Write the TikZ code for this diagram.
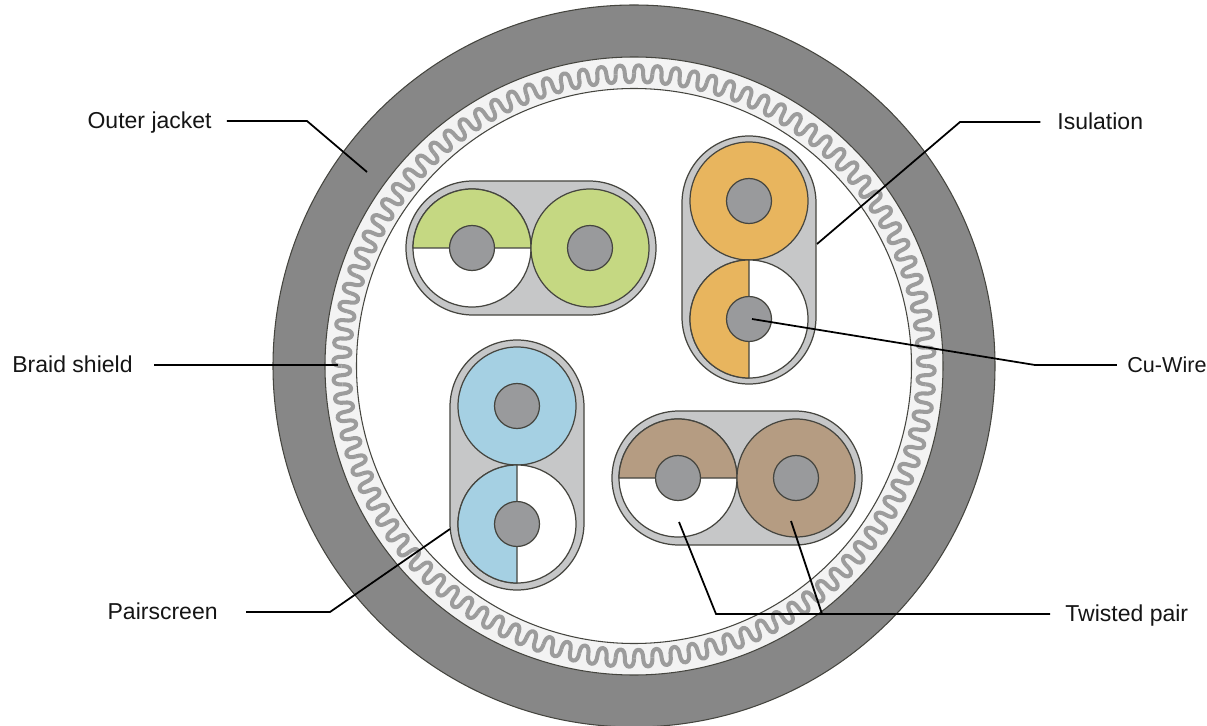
\documentclass[tikz,border=0pt]{standalone}
\usepackage{fontspec}
\setmainfont{Liberation Sans}
\usepackage{tikz}
\usetikzlibrary{arrows.meta,positioning,calc}
\definecolor{Jacket}{HTML}{878787}
\definecolor{Braid}{HTML}{F3F3F3}
\definecolor{BraidWire}{HTML}{9C9C9C}
\definecolor{Screen}{HTML}{C6C7C8}
\definecolor{Copper}{HTML}{999A9C}
\definecolor{Edge}{HTML}{45453F}
\definecolor{WireGreen}{HTML}{C5D882}
\definecolor{WireOrange}{HTML}{E8B55E}
\definecolor{WireBlue}{HTML}{A5D0E3}
\definecolor{WireBrown}{HTML}{B59C82}
\definecolor{Ink}{HTML}{151515}

\begin{document}
\begin{tikzpicture}[x=0.02cm, y=-0.02cm,
    ring/.style={draw=Edge, line width=0.6pt},
    braidwire/.style={draw=BraidWire, line width=2.3pt, line join=round},
    screen/.style={draw=Edge, fill=Screen, line width=0.7pt, rounded corners=1.34cm},
    wire/.style={draw=Edge, line width=0.7pt},
    core/.style={draw=Edge, fill=Copper, line width=0.7pt},
    leader/.style={draw=black, line width=1pt},
    tag/.style={font=\fontsize{13.1}{15}\selectfont, text=Ink, inner sep=0pt, text height=2.1ex, text depth=0.5ex}]
  \useasboundingbox (0,0) rectangle (1207,726);
  \fill[Jacket] (634,366) circle [radius=361];
  \draw[ring] (634,366) circle [radius=361];
  \draw[ring, fill=Braid] (634,366) circle [radius=309];
  \foreach \i in {0,...,99}
    \draw[braidwire, shift={(634,366)}, rotate=3.6*\i]
      plot[domain=0:360, samples=17, smooth] ({0.01*\x-0.25*sin(2*\x)}:{292.3+8.5*sin(\x)});
  \draw[ring, fill=white] (634,366) circle [radius=277.5];

  \draw[screen] (406,181) rectangle (656,315);
  \draw[wire, fill=white] (472,248) circle [radius=59];
  \draw[wire, fill=WireGreen] (413,248) arc [start angle=180, end angle=360, radius=59] -- cycle;
  \draw[core] (472,248) circle [radius=22.5];
  \draw[wire, fill=WireGreen] (590,248) circle [radius=59];
  \draw[core] (590,248) circle [radius=22.5];

  \draw[screen] (682,136) rectangle (816,384);
  \draw[wire, fill=WireOrange] (749,201) circle [radius=59];
  \draw[core] (749,201) circle [radius=22.5];
  \draw[wire, fill=white] (749,319) circle [radius=59];
  \draw[wire, fill=WireOrange] (749,260) arc [start angle=270, end angle=90, radius=59] -- cycle;
  \draw[core] (749,319) circle [radius=22.5];

  \draw[screen] (450,340) rectangle (584,590);
  \draw[wire, fill=WireBlue] (517,406) circle [radius=59];
  \draw[core] (517,406) circle [radius=22.5];
  \draw[wire, fill=white] (517,524) circle [radius=59];
  \draw[wire, fill=WireBlue] (517,465) arc [start angle=270, end angle=90, radius=59] -- cycle;
  \draw[core] (517,524) circle [radius=22.5];

  \draw[screen] (612,411) rectangle (862,545);
  \draw[wire, fill=white] (678,478) circle [radius=59];
  \draw[wire, fill=WireBrown] (619,478) arc [start angle=180, end angle=360, radius=59] -- cycle;
  \draw[core] (678,478) circle [radius=22.5];
  \draw[wire, fill=WireBrown] (796,478) circle [radius=59];
  \draw[core] (796,478) circle [radius=22.5];

  \node[tag, anchor=east] (outerjacket) at (212,121) {Outer jacket};
  \node[tag, anchor=east] (braidshield) at (133,365) {Braid shield};
  \node[tag, anchor=east] (pairscreen) at (218,612) {Pairscreen};
  \node[tag, anchor=west] (isulation) at (1057,122) {Isulation};
  \node[tag, anchor=west, font=\fontsize{12.3}{15}\selectfont] (cuwire) at (1127,365) {Cu-Wire};
  \node[tag, anchor=west] (twistedpair) at (1065,614) {Twisted pair};

  \coordinate (jackettip) at (367,172);
  \coordinate (braidtip) at (338,365);
  \coordinate (screentip) at (450,529);
  \coordinate (insultip) at (817,244);
  \coordinate (cutip) at (752,319);
  \coordinate (whitetip) at (679,522);
  \coordinate (browntip) at (791,521);
  \coordinate (pairfork) at (822,614);

  \draw[leader, shorten <=8.5pt] (outerjacket.east) -- (307,121) -- (jackettip);
  \draw[leader, shorten <=12pt] (braidshield.east) -- (braidtip);
  \draw[leader, shorten <=16pt] (pairscreen.east) -- (330,612) -- (screentip);
  \draw[leader, shorten <=9.5pt] (isulation.west) -- (960,122) -- (insultip);
  \draw[leader, shorten <=5.7pt] (cuwire.west) -- (1035,365) -- (cutip);
  \draw[leader, shorten <=8.5pt] (twistedpair.west) -- (716,614) -- (whitetip);
  \draw[leader] (pairfork) -- (browntip);
\end{tikzpicture}
\end{document}
